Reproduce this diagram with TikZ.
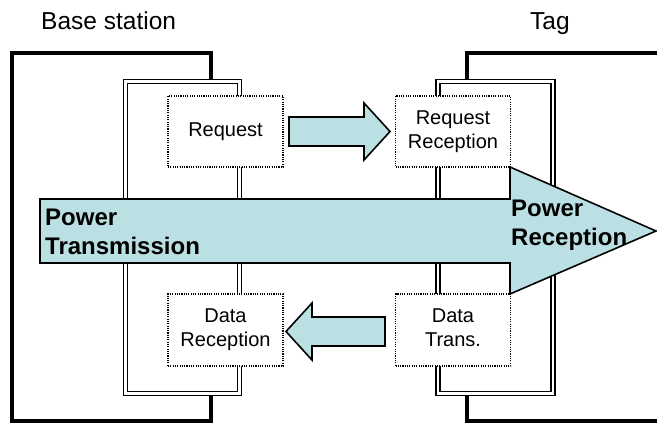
\documentclass[tikz,border=0pt]{standalone}
\usepackage{fontspec}
\setmainfont{Liberation Sans}
\definecolor{cyanfill}{RGB}{187,224,227}
\newcommand{\twolines}[2]{\raisebox{-2.5pt}{\begin{tabular}{@{}c@{}}#1\\#2\end{tabular}}}
\begin{document}
\begin{tikzpicture}[x=1pt,y=-1pt,
  thickline/.style={line width=3.2pt, line join=miter},
  dbl/.style={draw, double, double distance=2.6pt, line width=1.5pt},
  dotbox/.style={draw, line width=1.1pt, dash pattern=on 1.1pt off 1.2pt, fill=white,
    minimum width=115pt, minimum height=71pt, inner sep=0pt, align=center,
    font=\fontsize{20}{24}\selectfont},
  blockarrow/.style={draw, line width=1.6pt, fill=cyanfill, line join=miter},
  toplabel/.style={font=\fontsize{24.5}{29}\selectfont, inner sep=0pt, anchor=base west},
  powerlabel/.style={font=\fontsize{24}{29}\selectfont\bfseries, inner sep=0pt, anchor=base west}]
\useasboundingbox (0,0) rectangle (657,423);
% outer units
\draw[thickline] (211,81.5) -- (211,53) -- (12,53) -- (12,421) -- (211,421) -- (211,393.5);
\draw[thickline] (467,81.5) -- (467,53) -- (660,53);
\draw[thickline] (467,393.5) -- (467,421) -- (660,421);
% double frames
\draw[dbl] (125.5,81.5) rectangle (239.5,393.5);
\draw[dbl] (438,81.5) rectangle (553,393.5);
% dotted function boxes
\node[dotbox] (req) at (225.5,131.5) {\raisebox{-2pt}{Request}};
\node[dotbox] (reqrec) at (453,131.5) {\twolines{Request}{Reception}};
\node[dotbox, minimum height=72pt] (datarec) at (225.5,330) {\twolines{Data}{Reception}};
\node[dotbox, minimum height=72pt] (datatr) at (453,330) {\twolines{Data}{Trans.}};
% power arrow
\draw[blockarrow] (40,199) -- (510,199) -- (510,167) -- (656,231) -- (510,294) -- (510,263) -- (40,263) -- cycle;
% request arrow
\draw[blockarrow] (289,117) -- (364,117) -- (364,103) -- (390,131.5) -- (364,160) -- (364,146) -- (289,146) -- cycle;
% data arrow
\draw[blockarrow] (385,317) -- (312,317) -- (312,303) -- (286,331.5) -- (312,360) -- (312,346) -- (385,346) -- cycle;
% labels
\node[toplabel] (bs) at (41,30) {Base station};
\node[toplabel] (tag) at (530,30) {Tag};
\node[powerlabel] (ptx) at (45,225) {\vtop{\hbox{Power}\hbox{Transmission}}};
\node[powerlabel] (prx) at (511,216) {\vtop{\hbox{Power}\hbox{Reception}}};
\end{tikzpicture}
\end{document}
